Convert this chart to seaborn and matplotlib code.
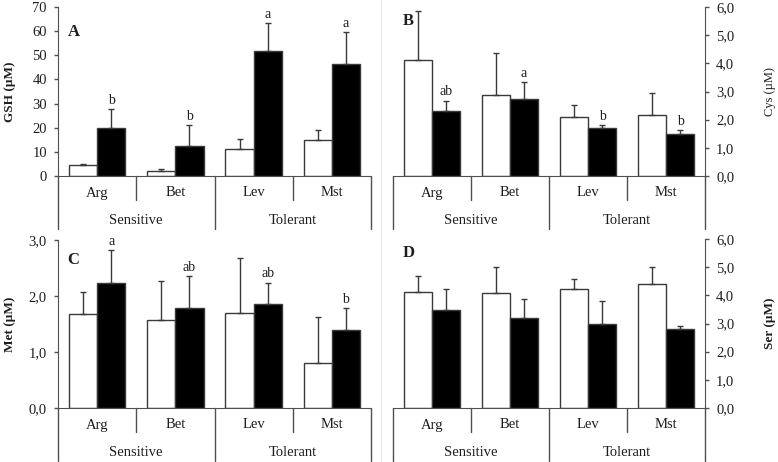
import numpy as np
import pandas as pd
import matplotlib.pyplot as plt
import seaborn as sns
from matplotlib.lines import Line2D

sns.set_style("ticks")
plt.rcParams['font.family'] = ['Liberation Serif', 'DejaVu Serif']

cultivars = ["Arg", "Bet", "Lev", "Mst"]
groups = ["Sensitive", "Tolerant"]
treatments = ["Control", "Treated"]

# A - GSH
gsh_ctrl = [4.6, 2.2, 11.2, 15.0]
gsh_ctrl_sd = [0.4, 0.6, 4.0, 4.0]
gsh_trt = [19.7, 12.6, 51.8, 46.4]
gsh_trt_sd = [8.1, 8.4, 11.4, 13.1]
gsh_letters = ["b", "b", "a", "a"]

# B - Cys
cys_ctrl = [4.13, 2.86, 2.09, 2.17]
cys_ctrl_sd = [1.74, 1.51, 0.44, 0.79]
cys_trt = [2.31, 2.73, 1.72, 1.48]
cys_trt_sd = [0.37, 0.62, 0.09, 0.16]
cys_letters = ["ab", "a", "b", "b"]

# C - Met
met_ctrl = [1.67, 1.58, 1.70, 0.81]
met_ctrl_sd = [0.41, 0.69, 0.97, 0.81]
met_trt = [2.24, 1.79, 1.86, 1.39]
met_trt_sd = [0.58, 0.56, 0.38, 0.40]
met_letters = ["a", "ab", "ab", "b"]

# D - Ser
ser_ctrl = [4.12, 4.10, 4.23, 4.42]
ser_ctrl_sd = [0.56, 0.91, 0.36, 0.59]
ser_trt = [3.48, 3.18, 3.00, 2.79]
ser_trt_sd = [0.76, 0.69, 0.79, 0.13]
ser_letters = ["", "", "", ""]

W, H = 778, 462
fig = plt.figure(figsize=(W / 100, H / 100), dpi=100)
fig.add_artist(Line2D([381 / W, 381 / W], [0, 1], color="#ebebeb", lw=1))

LINE = "#505050"
TXT = "#1e1e1e"


def comma(v):
    return f"{v:.1f}".replace(".", ",")


def panel(box, ctrl, ctrl_sd, trt, trt_sd, letters, ymax, ystep, fmt,
          ylabel, side, tag, tag_y, label_x, label_weight="bold", label_size=9.5):
    l, r, t, b = box
    h = b - t
    ax = fig.add_axes([l / W, 1 - b / H, (r - l) / W, h / H])
    df = pd.DataFrame({
        "cultivar": cultivars * 2,
        "treatment": [treatments[0]] * 4 + [treatments[1]] * 4,
        "value": ctrl + trt,
    })
    sns.barplot(data=df, x="cultivar", y="value", hue="treatment",
                order=cultivars, hue_order=treatments,
                palette=["white", "black"], saturation=1, width=0.72, gap=0,
                errorbar=None, edgecolor="#3a3a3a", linewidth=1.0, legend=False, ax=ax)

    for k, (cont, mean, sd) in enumerate(zip(ax.containers, [ctrl, trt], [ctrl_sd, trt_sd])):
        xs = [p.get_x() + p.get_width() / 2 for p in cont]
        ax.errorbar(xs, mean, yerr=[np.zeros(len(mean)), sd], fmt="none",
                    ecolor="#3a3a3a", elinewidth=1.0, capsize=2.5, capthick=1.0, zorder=3)
        if k == 1:
            for x, m, s, let in zip(xs, mean, sd, letters):
                if let:
                    ax.annotate(let, (x, m + s), xytext=(0, 1.5), textcoords="offset points",
                                ha="center", va="bottom", fontsize=10, color=TXT)

    ax.set_xlim(-0.5, 3.5)
    ax.set_ylim(0, ymax)
    ticks = np.arange(0, ymax + ystep / 2, ystep)
    ax.set_yticks(ticks)
    ax.set_yticklabels([fmt(v) for v in ticks])
    ax.set_xticks([])
    ax.set_xlabel("")
    ax.set_ylabel(ylabel, fontsize=label_size, fontweight=label_weight, color=TXT)

    for s in ["top", "left", "right", "bottom"]:
        ax.spines[s].set_visible(False)
    ax.spines["bottom"].set_visible(True)
    ax.spines["bottom"].set_color(LINE)
    if side == "right":
        ax.yaxis.tick_right()
        ax.yaxis.set_label_position("right")
        ax.spines["right"].set_visible(True)
        ax.spines["right"].set_color(LINE)
    else:
        ax.spines["left"].set_visible(True)
        ax.spines["left"].set_color(LINE)
    ax.yaxis.set_label_coords(label_x, 0.5)
    ax.tick_params(axis="y", length=3, width=1, pad=5, labelsize=10.5,
                   colors=LINE, labelcolor=TXT)

    # two-level category axis
    tr = ax.get_xaxis_transform()
    short, long_ = -24 / h, -53 / h
    for x in [0.5, 2.5]:
        ax.plot([x, x], [0, short], transform=tr, color=LINE, lw=1, clip_on=False)
    for x in [-0.5, 1.5, 3.5]:
        ax.plot([x, x], [0, long_], transform=tr, color=LINE, lw=1, clip_on=False)
    for i, c in enumerate(cultivars):
        ax.text(i, -17 / h, c, transform=tr, ha="center", va="center",
                fontsize=10.5, color=TXT)
    for i, g in enumerate(groups):
        ax.text(0.5 + 2 * i, -44 / h, g, transform=tr, ha="center", va="center",
                fontsize=10.5, color=TXT)

    ax.text(0.03, tag_y, tag, transform=ax.transAxes, ha="left", va="center",
            fontsize=12, fontweight="bold", color=TXT)
    return ax


panel((58, 371, 7, 176), gsh_ctrl, gsh_ctrl_sd, gsh_trt, gsh_trt_sd, gsh_letters,
      70, 10, lambda v: f"{v:.0f}", "GSH (µM)", "left", "A", 0.85, -0.135)
panel((393, 705, 7, 176), cys_ctrl, cys_ctrl_sd, cys_trt, cys_trt_sd, cys_letters,
      6, 1, comma, "Cys (µM)", "right", "B", 0.92, 1.19, "normal", 9)
panel((58, 371, 240, 408), met_ctrl, met_ctrl_sd, met_trt, met_trt_sd, met_letters,
      3, 1, comma, "Met (µM)", "left", "C", 0.88, -0.135)
panel((393, 705, 239, 408), ser_ctrl, ser_ctrl_sd, ser_trt, ser_trt_sd, ser_letters,
      6, 1, comma, "Ser (µM)", "right", "D", 0.92, 1.19)

fig.savefig("out.png", dpi=100)
